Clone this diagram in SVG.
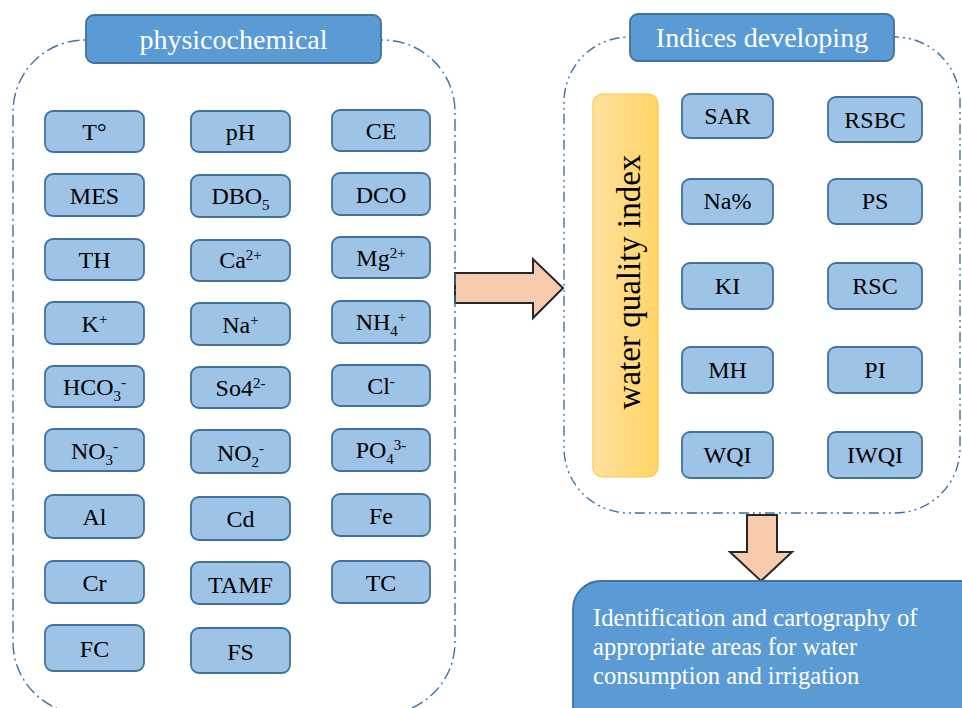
<svg xmlns="http://www.w3.org/2000/svg" width="962" height="708" viewBox="0 0 962 708">
<defs>
<style>
.cont{fill:none;stroke:#41719C;stroke-width:1.4;stroke-dasharray:12 4 2 4}
.cont2{fill:none;stroke:#41719C;stroke-width:1.4;stroke-dasharray:10 4 2 4 2 4}
.title{fill:#5B9BD5;stroke:#41719C;stroke-width:1.8}
.tt{font-family:"Liberation Serif","Times New Roman",serif;font-size:28px;fill:#fff;text-anchor:middle}
.box{fill:#9DC3E6;stroke:#41719C;stroke-width:1.8}
.bt{font-family:"Liberation Serif","Times New Roman",serif;font-size:24px;fill:#000;text-anchor:middle}
.s{font-size:15px}
.arr{fill:#F8CBAD;stroke:#262626;stroke-width:2;stroke-linejoin:miter}
.wt{font-family:"Liberation Serif","Times New Roman",serif;font-size:24.6px;fill:#fff}
</style>
<linearGradient id="yg" x1="0" y1="0" x2="1" y2="0">
<stop offset="0" stop-color="#FFE09E"/>
<stop offset="1" stop-color="#FFD466"/>
</linearGradient>
</defs>

<g id="connectors">
<polygon class="arr" points="455,273 533,273 533,259 563,288 533,318 533,303 455,303"/>
<polygon class="arr" points="747,515 777,515 777,552 792,552 761,581 730,552 747,552"/>
</g>

<g id="physicochemical-group">
<rect class="cont" x="13" y="40" width="442" height="674" rx="72"/>
<rect class="title" x="86" y="15" width="295" height="48" rx="8"/>
<text class="tt" x="233.5" y="49">physicochemical</text>
</g>

<g id="indices-group">
<rect class="cont2" x="564" y="37" width="396" height="476" rx="65"/>
<rect class="title" x="630" y="14" width="264" height="47" rx="8"/>
<text class="tt" x="762" y="47">Indices developing</text>
</g>

<g id="wqi-bar">
<rect x="593" y="94" width="65" height="383" rx="10" fill="url(#yg)" stroke="#FFC846" stroke-width="1.2"/>
<text transform="translate(640,282) rotate(-90)" text-anchor="middle" font-family="Liberation Serif,Times New Roman,serif" font-size="33" fill="#000">water quality index</text>
</g>

<!-- left column 1 -->
<g id="n-T"><rect class="box" x="45" y="111" width="99" height="41" rx="8"/><text class="bt" x="94.5" y="140">T°</text></g>
<g id="n-MES"><rect class="box" x="45" y="174" width="99" height="42" rx="8"/><text class="bt" x="94.5" y="204">MES</text></g>
<g id="n-TH"><rect class="box" x="45" y="239" width="99" height="41" rx="8"/><text class="bt" x="94.5" y="268">TH</text></g>
<g id="n-K"><rect class="box" x="45" y="302" width="99" height="42" rx="8"/><text class="bt" x="94.5" y="332">K<tspan class="s" dy="-8">+</tspan></text></g>
<g id="n-HCO3"><rect class="box" x="45" y="366" width="99" height="41" rx="8"/><text class="bt" x="94.5" y="395">HCO<tspan class="s" dy="6">3</tspan><tspan class="s" dy="-14">-</tspan></text></g>
<g id="n-NO3"><rect class="box" x="45" y="429" width="99" height="42" rx="8"/><text class="bt" x="94.5" y="459">NO<tspan class="s" dy="6">3</tspan><tspan class="s" dy="-14">-</tspan></text></g>
<g id="n-Al"><rect class="box" x="45" y="495" width="99" height="43" rx="8"/><text class="bt" x="94.5" y="525">Al</text></g>
<g id="n-Cr"><rect class="box" x="45" y="561" width="99" height="42" rx="8"/><text class="bt" x="94.5" y="591">Cr</text></g>
<g id="n-FC"><rect class="box" x="45" y="625" width="99" height="46" rx="8"/><text class="bt" x="94.5" y="657">FC</text></g>

<!-- left column 2 -->
<g id="n-pH"><rect class="box" x="191" y="111" width="99" height="41" rx="8"/><text class="bt" x="240.5" y="140">pH</text></g>
<g id="n-DBO5"><rect class="box" x="191" y="175" width="99" height="42" rx="8"/><text class="bt" x="240.5" y="204">DBO<tspan class="s" dy="6">5</tspan></text></g>
<g id="n-Ca"><rect class="box" x="191" y="240" width="99" height="41" rx="8"/><text class="bt" x="240.5" y="268">Ca<tspan class="s" dy="-8">2+</tspan></text></g>
<g id="n-Na"><rect class="box" x="191" y="303" width="99" height="42" rx="8"/><text class="bt" x="240.5" y="333">Na<tspan class="s" dy="-8">+</tspan></text></g>
<g id="n-So4"><rect class="box" x="191" y="367" width="99" height="41" rx="8"/><text class="bt" x="240.5" y="396">So4<tspan class="s" dy="-8">2-</tspan></text></g>
<g id="n-NO2"><rect class="box" x="191" y="430" width="99" height="43" rx="8"/><text class="bt" x="240.5" y="461">NO<tspan class="s" dy="6">2</tspan><tspan class="s" dy="-14">-</tspan></text></g>
<g id="n-Cd"><rect class="box" x="191" y="497" width="99" height="43" rx="8"/><text class="bt" x="240.5" y="527">Cd</text></g>
<g id="n-TAMF"><rect class="box" x="191" y="562" width="99" height="42" rx="8"/><text class="bt" x="240.5" y="593">TAMF</text></g>
<g id="n-FS"><rect class="box" x="191" y="628" width="99" height="45" rx="8"/><text class="bt" x="240.5" y="660">FS</text></g>

<!-- left column 3 -->
<g id="n-CE"><rect class="box" x="332" y="110" width="98" height="41" rx="8"/><text class="bt" x="381" y="139">CE</text></g>
<g id="n-DCO"><rect class="box" x="332" y="173" width="98" height="42" rx="8"/><text class="bt" x="381" y="203">DCO</text></g>
<g id="n-Mg"><rect class="box" x="332" y="237" width="98" height="41" rx="8"/><text class="bt" x="381" y="266">Mg<tspan class="s" dy="-8">2+</tspan></text></g>
<g id="n-NH4"><rect class="box" x="332" y="301" width="98" height="42" rx="8"/><text class="bt" x="381" y="330">NH<tspan class="s" dy="6">4</tspan><tspan class="s" dy="-14">+</tspan></text></g>
<g id="n-Cl"><rect class="box" x="332" y="365" width="98" height="41" rx="8"/><text class="bt" x="381" y="394">Cl<tspan class="s" dy="-8">-</tspan></text></g>
<g id="n-PO4"><rect class="box" x="332" y="429" width="98" height="42" rx="8"/><text class="bt" x="381" y="458">PO<tspan class="s" dy="6">4</tspan><tspan class="s" dy="-14">3-</tspan></text></g>
<g id="n-Fe"><rect class="box" x="332" y="494" width="98" height="42" rx="8"/><text class="bt" x="381" y="524">Fe</text></g>
<g id="n-TC"><rect class="box" x="332" y="561" width="98" height="42" rx="8"/><text class="bt" x="381" y="591">TC</text></g>

<!-- right indices -->
<g id="n-SAR"><rect class="box" x="682" y="94" width="91" height="44" rx="8"/><text class="bt" x="727.5" y="124">SAR</text></g>
<g id="n-Napct"><rect class="box" x="682" y="179" width="91" height="45" rx="8"/><text class="bt" x="727.5" y="209">Na%</text></g>
<g id="n-KI"><rect class="box" x="682" y="263" width="91" height="46" rx="8"/><text class="bt" x="727.5" y="294">KI</text></g>
<g id="n-MH"><rect class="box" x="682" y="347" width="91" height="46" rx="8"/><text class="bt" x="727.5" y="378">MH</text></g>
<g id="n-WQI"><rect class="box" x="682" y="432" width="91" height="46" rx="8"/><text class="bt" x="727.5" y="463">WQI</text></g>

<g id="n-RSBC"><rect class="box" x="828" y="97" width="94" height="45" rx="8"/><text class="bt" x="875" y="128">RSBC</text></g>
<g id="n-PS"><rect class="box" x="828" y="179" width="94" height="45" rx="8"/><text class="bt" x="875" y="209">PS</text></g>
<g id="n-RSC"><rect class="box" x="828" y="263" width="94" height="46" rx="8"/><text class="bt" x="875" y="294">RSC</text></g>
<g id="n-PI"><rect class="box" x="828" y="347" width="94" height="46" rx="8"/><text class="bt" x="875" y="378">PI</text></g>
<g id="n-IWQI"><rect class="box" x="828" y="432" width="94" height="46" rx="8"/><text class="bt" x="875" y="463">IWQI</text></g>

<g id="n-result">
<rect class="title" x="573" y="581" width="420" height="170" rx="28"/>
<text class="wt" x="593" y="626">Identification and cartography of</text>
<text class="wt" x="593" y="655">appropriate areas for water</text>
<text class="wt" x="593" y="684">consumption and irrigation</text>
</g>
</svg>
